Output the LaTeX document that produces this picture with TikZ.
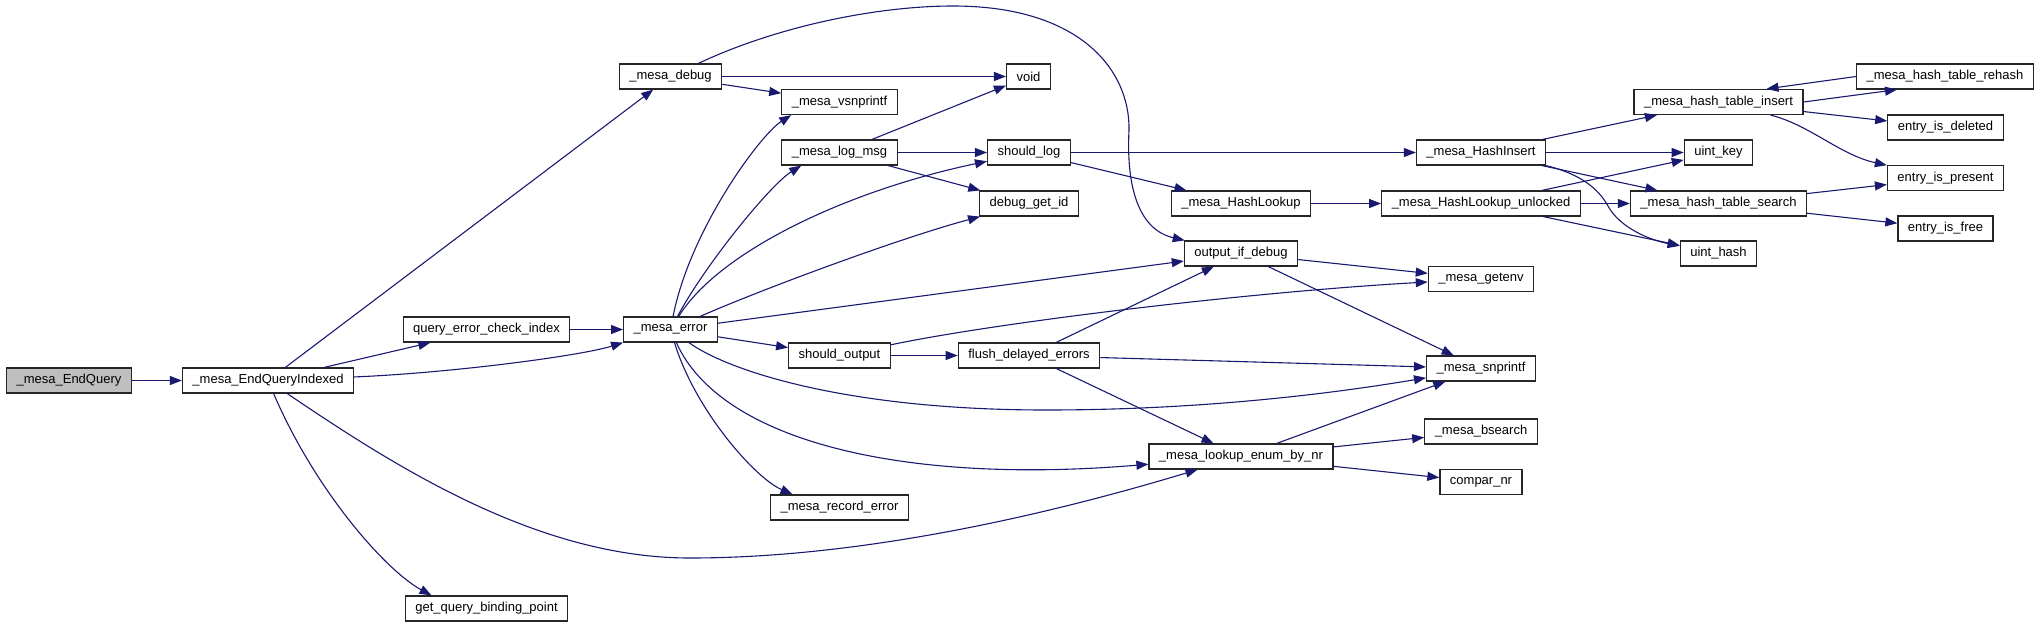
\documentclass[tikz,border=0pt]{standalone}
\usepackage{fontspec}
\setmainfont{Liberation Sans}
\usepackage{xcolor}
\usetikzlibrary{arrows.meta}
\definecolor{edgeblue}{HTML}{191970}

\begin{document}
\begin{tikzpicture}[x=1pt, y=-1pt,
  fnbox/.style={draw=black!85, line width=1.2pt, rectangle, minimum height=25pt, inner xsep=10pt, inner ysep=0pt, fill=white, font=\fontsize{13}{15}\selectfont},
  rootbox/.style={fnbox, fill=black!25},
  call/.style={draw=edgeblue, line width=1.1pt, -{Triangle[length=12pt,width=9pt]}}
]
\useasboundingbox (0,0) rectangle (2040,627);

% Entry points
\node[rootbox] (endquery) at (69,380.5) {\_mesa\_EndQuery};
\node[fnbox] (indexed) at (268,380.5) {\_mesa\_EndQueryIndexed};
\node[fnbox] (checkidx) at (486.5,329.5) {query\_error\_check\_index};
\node[fnbox] (binding) at (486.5,608.5) {get\_query\_binding\_point};

% Debug and error
\node[fnbox] (debug) at (670.5,76.5) {\_mesa\_debug};
\node[fnbox] (error) at (670.5,329.5) {\_mesa\_error};
\node[fnbox] (vsn) at (839.5,102) {\_mesa\_vsnprintf};
\node[fnbox] (logmsg) at (839.5,152.5) {\_mesa\_log\_msg};
\node[fnbox] (shouldout) at (839.5,355.5) {should\_output};
\node[fnbox] (recerr) at (839.5,507.5) {\_mesa\_record\_error};
\node[fnbox] (void) at (1028.5,76.5) {void};
\node[fnbox] (shouldlog) at (1029,152.5) {should\_log};
\node[fnbox] (getid) at (1029,203.5) {debug\_get\_id};
\node[fnbox] (flush) at (1029,355.5) {flush\_delayed\_errors};
\node[fnbox] (lookup) at (1241,203.5) {\_mesa\_HashLookup};
\node[fnbox] (outdbg) at (1241,253.5) {output\_if\_debug};
\node[fnbox] (enumnr) at (1241,456.5) {\_mesa\_lookup\_enum\_by\_nr};

% Hash table and helpers
\node[fnbox] (insert) at (1481,152.5) {\_mesa\_HashInsert};
\node[fnbox] (unlocked) at (1481,203.5) {\_mesa\_HashLookup\_unlocked};
\node[fnbox] (getenv) at (1481,279) {\_mesa\_getenv};
\node[fnbox] (snprintf) at (1481,368.5) {\_mesa\_snprintf};
\node[fnbox] (bsearch) at (1481,431.5) {\_mesa\_bsearch};
\node[fnbox] (compar) at (1481,482) {compar\_nr};
\node[fnbox] (htinsert) at (1718.5,102) {\_mesa\_hash\_table\_insert};
\node[fnbox] (uintkey) at (1718.5,152.5) {uint\_key};
\node[fnbox] (htsearch) at (1718.5,203.5) {\_mesa\_hash\_table\_search};
\node[fnbox] (uinthash) at (1718.5,253.5) {uint\_hash};
\node[fnbox] (rehash) at (1945,76.5) {\_mesa\_hash\_table\_rehash};
\node[fnbox] (deleted) at (1945.5,127.5) {entry\_is\_deleted};
\node[fnbox] (present) at (1945.5,178) {entry\_is\_present};
\node[fnbox] (free) at (1945.5,228.5) {entry\_is\_free};

% Calls
\draw[call] (endquery) -- (indexed);
\draw[call] (indexed) -- (debug);
\draw[call] (indexed) -- (checkidx);
\draw[call] (indexed) .. controls (450,373) and (580,356) .. (error.south west);
\draw[call] (indexed) .. controls (315,490) and (385,570) .. ([xshift=-55pt]binding.north);
\draw[call] (indexed) .. controls (400,470) and (540,558) .. (690,558) .. controls (880,558) and (1080,505) .. (enumnr);
\draw[call] (checkidx) -- (error);

\draw[call] (debug) -- (void);
\draw[call] (debug) -- (vsn);
\draw[call] (debug) .. controls (780,25) and (880,6) .. (953,6) .. controls (1080,6) and (1130,70) .. (1129,130) .. controls (1126,190) and (1140,230) .. (outdbg);

\draw[call] (error) .. controls (690,230) and (760,135) .. ([xshift=10pt]vsn.south west);
\draw[call] (error) .. controls (705,265) and (770,185) .. ([xshift=20pt]logmsg.south west);
\draw[call] (error) .. controls (720,250) and (850,190) .. (shouldlog);
\draw[call] (error) .. controls (760,290) and (900,238) .. (getid);
\draw[call] (error) -- (outdbg);
\draw[call] (error) -- (shouldout);
\draw[call] (error) .. controls (730,372) and (850,410) .. (1046,410) .. controls (1200,410) and (1330,394) .. (snprintf);
\draw[call] (error) .. controls (720,440) and (900,485) .. (enumnr);
\draw[call] (error) .. controls (695,410) and (755,478) .. ([xshift=-47pt]recerr.north);

\draw[call] (logmsg) -- (void);
\draw[call] (logmsg) -- (shouldlog);
\draw[call] (logmsg) -- (getid);
\draw[call] (shouldlog) -- (insert);
\draw[call] (shouldlog) -- (lookup);
\draw[call] (lookup) -- (unlocked);

\draw[call] (shouldout) .. controls (1000,322) and (1250,292) .. (getenv);
\draw[call] (shouldout) -- (flush);
\draw[call] (flush) -- (outdbg);
\draw[call] (flush) -- (snprintf);
\draw[call] (flush) -- (enumnr);
\draw[call] (outdbg) -- (getenv);
\draw[call] (outdbg) -- (snprintf);
\draw[call] (enumnr) -- (snprintf);
\draw[call] (enumnr) -- (bsearch);
\draw[call] (enumnr) -- (compar);

\draw[call] (insert) -- (htinsert);
\draw[call] (insert) -- (uintkey);
\draw[call] (insert) -- (htsearch);
\draw[call] (insert.south east) .. controls (1580,174) and (1598,188) .. (1608,206) .. controls (1620,228) and (1650,240) .. (uinthash);
\draw[call] (unlocked) -- (uintkey);
\draw[call] (unlocked) -- (htsearch);
\draw[call] (unlocked) -- (uinthash);

\draw[call] (htinsert.east) -- ([xshift=-48pt]rehash.south);
\draw[call] (rehash.west) -- ([xshift=48pt]htinsert.north);
\draw[call] (htinsert) -- (deleted);
\draw[call] (htinsert) .. controls (1810,125) and (1840,155) .. (present);
\draw[call] (htsearch) -- (present);
\draw[call] (htsearch) -- (free);

\end{tikzpicture}
\end{document}
